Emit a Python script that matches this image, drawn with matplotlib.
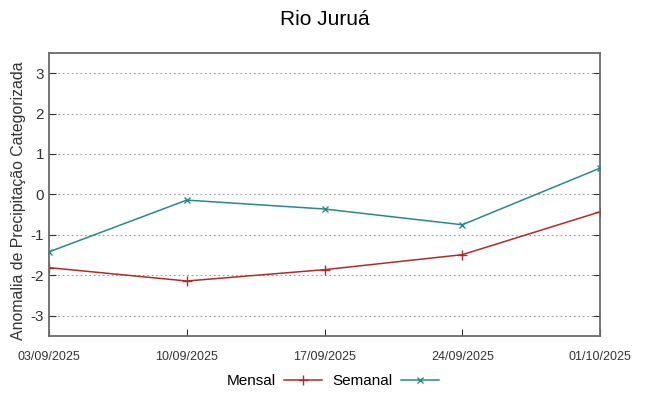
import matplotlib.pyplot as plt

plt.rcParams['font.family'] = ['Liberation Sans', 'DejaVu Sans']

# dados
datas = ['03/09/2025', '10/09/2025', '17/09/2025', '24/09/2025', '01/10/2025']
mensal = [-1.81, -2.14, -1.86, -1.49, -0.43]
semanal = [-1.42, -0.14, -0.36, -0.75, 0.65]
yticks = [-3, -2, -1, 0, 1, 2, 3]

x = list(range(len(datas)))

fig = plt.figure(figsize=(6.49, 3.96), dpi=100)
ax = fig.add_axes([0.0755, 0.1515, 0.849, 0.715])

ax.plot(x, mensal, color='#b22a2a', lw=1.1, marker='+', ms=7, mew=1, label='Mensal')
ax.plot(x, semanal, color='#268a8a', lw=1.1, marker='x', ms=5, mew=1, label='Semanal')

ax.set_xlim(0, len(datas) - 1)
ax.set_ylim(-3.5, 3.5)
ax.set_xticks(x)
ax.set_xticklabels(datas, fontsize=9, color='#333333')
ax.set_yticks(yticks)
ax.set_yticklabels([str(v) for v in yticks], fontsize=11, color='#333333')
ax.tick_params(direction='in', top=False, right=True, length=5, color='#333333')
ax.tick_params(axis='x', pad=11)
ax.grid(axis='y', linestyle=(0, (1.5, 2.5)), color='#999999', lw=0.8)
for s in ax.spines.values():
    s.set_color('#6a6a6a')
    s.set_linewidth(1.3)

ax.set_ylabel('Anomalia de Precipitação Categorizada', fontsize=11.4, color='#333333')
ax.yaxis.set_label_coords(-0.0425, 0.477)
fig.suptitle('Rio Juruá', fontsize=15, y=0.975)

fig.legend(loc='center', bbox_to_anchor=(0.513, 0.037), ncol=2, frameon=False,
           markerfirst=False, fontsize=11, handlelength=2.5, columnspacing=0.7,
           handletextpad=0.5)

fig.savefig('out.png', dpi=100)
